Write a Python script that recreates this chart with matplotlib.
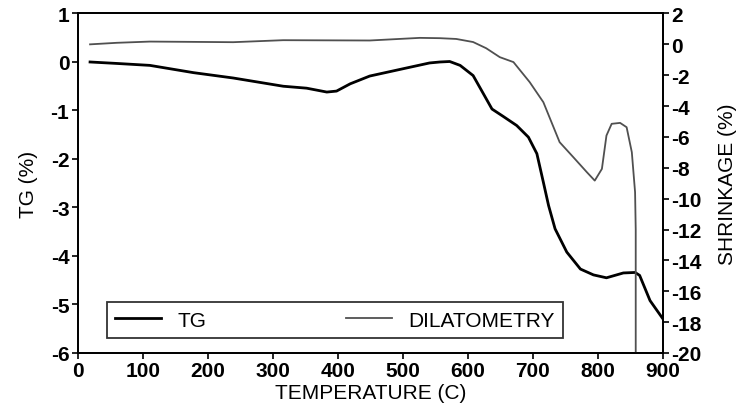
import matplotlib.pyplot as plt

plt.rcParams["font.family"] = ["Liberation Sans", "DejaVu Sans"]
plt.rcParams["font.weight"] = "bold"
plt.rcParams["axes.unicode_minus"] = False

# TG curve (left axis)
temp_tg = [19, 60, 111, 178, 239, 316, 352, 383, 398, 419, 449, 500, 541, 557,
           572, 588, 608, 624, 637, 654, 675, 693, 706, 716, 724, 734, 752,
           773, 793, 813, 826, 839, 857, 864, 880, 900]
tg = [0.0, -0.03, -0.07, -0.22, -0.33, -0.50, -0.54, -0.62, -0.60, -0.45,
      -0.29, -0.14, -0.02, 0.0, 0.01, -0.07, -0.28, -0.66, -0.97, -1.12,
      -1.31, -1.55, -1.89, -2.48, -2.96, -3.44, -3.92, -4.27, -4.39, -4.45,
      -4.40, -4.35, -4.34, -4.40, -4.92, -5.30]

# dilatometry curve (right axis, shrinkage %)
temp_dil = [19, 60, 111, 178, 239, 316, 449, 526, 557, 582, 608, 628, 649,
            670, 695, 716, 741, 762, 783, 795, 806, 813, 821, 834, 844, 852,
            857, 858, 858]
dil = [0.0, 0.1, 0.18, 0.16, 0.14, 0.27, 0.25, 0.42, 0.40, 0.35, 0.15,
       -0.25, -0.83, -1.15, -2.45, -3.75, -6.34, -7.31, -8.29, -8.83, -8.07,
       -5.91, -5.15, -5.09, -5.37, -6.99, -9.58, -12.0, -20.0]

fig = plt.figure(figsize=(7.4, 4.14), dpi=100)
ax = fig.add_axes([0.105, 0.145, 0.791, 0.82])
ax2 = ax.twinx()

l1, = ax.plot(temp_tg, tg, color="black", lw=2.0, label="TG")
l2, = ax2.plot(temp_dil, dil, color="#505050", lw=1.3, label="DILATOMETRY")

ax.set_xlim(0, 900)
ax.set_ylim(-6, 1)
ax2.set_ylim(-20, 2)
ax.set_xticks(range(0, 901, 100))
ax.set_yticks(range(-6, 2))
ax2.set_yticks(range(-20, 3, 2))

for a in (ax, ax2):
    a.tick_params(direction="out", length=4, width=1.2, labelsize=15, pad=2)
    for s in a.spines.values():
        s.set_linewidth(1.3)

ax.set_xlabel("TEMPERATURE (C)", fontsize=15, fontweight="normal", labelpad=2)
ax.set_ylabel("TG (%)", fontsize=15, fontweight="normal", labelpad=9)
ax2.set_ylabel("SHRINKAGE (%)", fontsize=15, fontweight="normal", labelpad=12)

leg = ax.legend(handles=[l1, l2], ncol=2, mode="expand",
                bbox_to_anchor=(0.05, 0.044, 0.779, 0.13), loc="lower left",
                prop={"size": 15, "weight": "normal"}, frameon=True,
                fancybox=False, handlelength=2.2, borderaxespad=0)
leg.get_frame().set_edgecolor("black")
leg.get_frame().set_linewidth(1.3)

fig.savefig("out.png", dpi=100)
